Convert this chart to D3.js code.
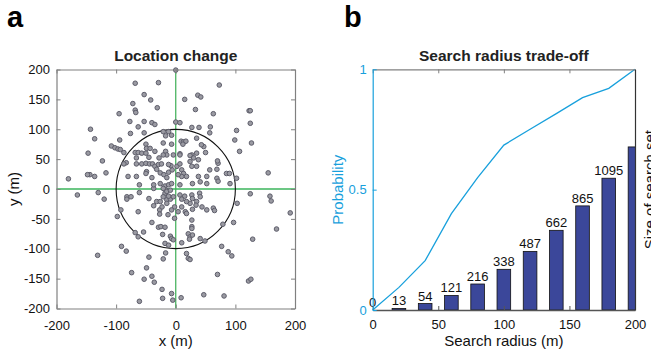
<!DOCTYPE html>
<html><head><meta charset="utf-8">
<script src="https://cdn.jsdelivr.net/npm/d3@7"></script>
<style>
body{margin:0;background:#fff;}
text{font-family:"Liberation Sans",Arial,Helvetica,sans-serif;}
</style></head><body>
<svg id="c" width="651" height="358"></svg>
<script>
// ---- Panel a data: location changes (m) ----
const locPoints = [
[0,199],[-68,177],[-29,178],[73,174],[-53,158],[-42,149],[15,150],[37,157],[42,154],[-72,143],[-68,132],[-67,128],[-31,136],[33,133],[63,126],[123,131],[125,131],[-95,126],[-143,100],[-136,84],[-147,60],[-123,47],[-77,113],[-53,113],[-63,104],[-40,111],[-35,108],[-76,93],[-53,94],[0,112],[7,111],[27,103],[39,103],[58,104],[57,94],[102,98],[125,110],[99,82],[127,77],[107,63],[-94,82],[-108,72],[-102,69],[-97,67],[-93,66],[-87,61],[-83,44],[-87,42],[-117,27],[-144,24],[-148,24],[-136,21],[-180,17],[155,27],[85,26],[90,26],[69,33],[71,43],[70,47],[50,61],[47,71],[43,74],[35,85],[27,57],[24,56],[30,52],[38,49],[35,38],[24,46],
[-21,96],[-17,89],[-12,96],[-7,90],[-7,75],[-21,77],[-17,63],[-15,57],[-21,57],[-4,57],[9,80],[13,79],[17,80],[12,75],[7,59],[7,57],[-28,52],[-35,63],[-50,75],[-49,68],[-68,61],[-63,61],[-57,60],[-50,60],[-45,53],[-43,68],[-66,52],[-66,42],[-57,42],[-50,43],[-44,42],[-39,42],[-35,38],[-29,41],[-24,42],[-49,29],[-50,26],[-32,33],[-26,27],[-20,24],[-12,28],[-6,32],[-8,39],[-12,41],[2,38],[7,42],[10,32],[13,26],[18,21],[10,21],[4,24],[-80,21],[-66,21],[-40,19],[-15,19],[27,38],[38,21],[52,21],[57,32],[35,60],
[-165,-10],[-130,-6],[-120,-17],[-82,-13],[-82,-17],[-75,-13],[-61,7],[-61,-6],[-45,-16],[-37,1],[-37,7],[-26,9],[-18,5],[-12,7],[-7,9],[-16,-2],[-18,-7],[-21,-13],[-32,-21],[-26,-21],[-15,-18],[-15,-24],[-9,-17],[-4,-13],[7,7],[7,-10],[15,-12],[-2,-30],[10,-30],[-7,-35],[4,-38],[16,-38],[24,-24],[27,-10],[28,-16],[35,-21],[34,-27],[40,-7],[41,12],[52,9],[28,9],[44,-30],[52,-35],[63,-32],[65,-36],[28,-34],[18,-41],[-27,-35],[-27,-42],[-13,-43],[-63,-38],[-92,-35],[-98,-46],[-40,-56],[-29,-64],[-25,-63],[-18,-64],[-22,-76],[-9,-79],[-7,-83],[-4,-85],[-2,-49],[27,-52],[27,-63],[27,-66],[21,-75],[24,-80],[28,-77],[23,-84],[41,-83],[49,-87],[10,-90],[-18,-91],[-12,-94],[-54,-72],[-68,-73],[-63,-80],[-91,-96],[-83,-104],[-131,-111],[-45,-114],[-21,-117],[-17,-107],[18,-108],[21,-116],[24,-118],[-49,-132],[-40,-146],[-53,-151],[-36,-156],[-74,-140],[-23,-168],[-22,-183],[-7,-175],[-5,-186],[9,-182],[-61,-188],[47,-177],[81,-179],[70,-143],[77,-96],[88,-105],[94,-112],[97,-56],[79,-59],[103,-24],[125,-8],[158,-12],[160,-20],[192,-40],[169,-67],[129,-84],[122,-154],[126,-151],[102,18],[91,9],[69,18],[71,13],[-15,-4],[-12,-12],[-9,-2],[-21,1],[-23,-30],[-37,-28],[10,-17],[18,-21],[41,-13]
];
const locXTicks = [-200,-100,0,100,200];
const locYTicks = [-200,-150,-100,-50,0,50,100,150,200];
const searchCircleRadius = 100;

// ---- Panel b data ----
const radii = [0,20,40,60,80,100,120,140,160,180,200];
const probability = [0,0.094,0.205,0.40,0.55,0.685,0.751,0.816,0.882,0.921,1.0];
const setSize = [0,13,54,121,216,338,487,662,865,1095,1355];
const setSizeLabels = ["0","13","54","121","216","338","487","662","865","1095"];
const radiusTicks = [0,50,100,150,200];
const probTicks = [0,0.5,1];

const svg = d3.select("#c");
const gray = "#808080";

// ================= Panel a =================
const ax = d3.scaleLinear().domain([-200,200]).range([56.5,295]);
const ay = d3.scaleLinear().domain([-200,200]).range([308.5,69.5]);
const ga = svg.append("g");

ga.append("text").attr("x",7).attr("y",27).attr("font-size",29).attr("font-weight","bold").text("a");
ga.append("text").attr("x",(ax(-200)+ax(200))/2).attr("y",61).attr("text-anchor","middle")
  .attr("font-size",15.5).attr("font-weight","bold").attr("fill","#222").text("Location change");

// green cross lines
ga.append("line").attr("x1",ax(-200)).attr("x2",ax(200)).attr("y1",ay(0)).attr("y2",ay(0))
  .attr("stroke","#6cc784").attr("stroke-width",1.8);
ga.append("line").attr("x1",ax(0)).attr("x2",ax(0)).attr("y1",ay(-200)).attr("y2",ay(200))
  .attr("stroke","#3cae55").attr("stroke-width",1.2);

// circle
ga.append("circle").attr("cx",ax(0)).attr("cy",ay(0))
  .attr("r",ax(searchCircleRadius)-ax(0)).attr("fill","none").attr("stroke","#111").attr("stroke-width",1.1);

// points
ga.append("g").selectAll("circle").data(locPoints).join("circle")
  .attr("cx",d=>ax(d[0])).attr("cy",d=>ay(d[1])).attr("r",2.3)
  .attr("fill","#9a9aa2").attr("stroke","#5d5d6a").attr("stroke-width",1);

function styleAxis(g, col){
  g.select(".domain").attr("stroke",col).attr("stroke-width",1.2);
  g.selectAll(".tick line").attr("stroke",col);
  g.selectAll("text").attr("font-size",13).attr("fill","#111")
    .attr("font-family","'Liberation Sans',Arial,sans-serif");
}
let g;
g = ga.append("g").attr("transform",`translate(0,${ay(-200)})`)
  .call(d3.axisBottom(ax).tickValues(locXTicks).tickSizeInner(-4).tickSizeOuter(0).tickPadding(12).tickFormat(d3.format("d")));
styleAxis(g,gray); g.selectAll("text").text(d=>d<0?"-"+Math.abs(d):d);
g = ga.append("g").attr("transform",`translate(0,${ay(200)})`)
  .call(d3.axisTop(ax).tickValues(locXTicks).tickSizeInner(-4).tickSizeOuter(0).tickFormat(""));
styleAxis(g,gray);
g = ga.append("g").attr("transform",`translate(${ax(-200)},0)`)
  .call(d3.axisLeft(ay).tickValues(locYTicks).tickSizeInner(-4).tickSizeOuter(0).tickPadding(6.5));
styleAxis(g,gray); g.selectAll("text").text(d=>d<0?"-"+Math.abs(d):d);
g = ga.append("g").attr("transform",`translate(${ax(200)},0)`)
  .call(d3.axisRight(ay).tickValues(locYTicks).tickSizeInner(-4).tickSizeOuter(0).tickFormat(""));
styleAxis(g,gray);

ga.append("text").attr("x",(ax(-200)+ax(200))/2).attr("y",346).attr("text-anchor","middle")
  .attr("font-size",15).attr("fill","#111").text("x (m)");
ga.append("text").attr("transform",`translate(19,${(ay(-200)+ay(200))/2}) rotate(-90)`)
  .attr("text-anchor","middle").attr("font-size",15).attr("fill","#111").text("y (m)");

// ================= Panel b =================
const bx = d3.scaleLinear().domain([0,200]).range([372.7,635]);
const byL = d3.scaleLinear().domain([0,1]).range([310,69.3]);
const byR = d3.scaleLinear().domain([0,2000]).range([310,69.3]);
const blue = "#18a0dc";
const gb = svg.append("g");

gb.append("text").attr("x",344).attr("y",27).attr("font-size",29).attr("font-weight","bold").text("b");
gb.append("text").attr("x",(bx(0)+bx(200))/2).attr("y",61).attr("text-anchor","middle")
  .attr("font-size",15.5).attr("font-weight","bold").attr("fill","#222").text("Search radius trade-off");

gb.append("clipPath").attr("id","clipb").append("rect")
  .attr("x",bx(0)).attr("y",byL(1)).attr("width",bx(200)-bx(0)).attr("height",byL(0)-byL(1));

const barW = bx(10.4)-bx(0);
gb.append("g").attr("clip-path","url(#clipb)").selectAll("rect").data(radii).join("rect")
  .attr("x",(d)=>bx(d)-barW/2).attr("width",barW)
  .attr("y",(d,i)=>byR(setSize[i])).attr("height",(d,i)=>byR(0)-byR(setSize[i]))
  .attr("fill","#3b479a").attr("stroke","#111").attr("stroke-width",0.8);

gb.append("g").selectAll("text").data(setSizeLabels).join("text")
  .attr("x",(d,i)=>bx(radii[i])).attr("y",(d,i)=>byR(setSize[i])-3)
  .attr("text-anchor","middle").attr("font-size",13).attr("fill","#111").text(d=>d);

// probability line
gb.append("path").datum(radii)
  .attr("d",d3.line().x(d=>bx(d)).y((d,i)=>byL(probability[i])))
  .attr("fill","none").attr("stroke",blue).attr("stroke-width",1.3);

g = gb.append("g").attr("transform",`translate(0,${byL(0)})`)
  .call(d3.axisBottom(bx).tickValues(radiusTicks).tickSizeInner(-4).tickSizeOuter(0).tickPadding(10));
styleAxis(g,"#555"); g.select(".domain").attr("stroke-width",1.6);
g = gb.append("g").attr("transform",`translate(0,${byL(1)})`)
  .call(d3.axisTop(bx).tickValues(radiusTicks).tickSizeInner(-4).tickSizeOuter(0).tickFormat(""));
styleAxis(g,gray);
g = gb.append("g").attr("transform",`translate(${bx(0)},0)`)
  .call(d3.axisLeft(byL).tickValues(probTicks).tickSizeInner(-4).tickSizeOuter(0).tickPadding(6).tickFormat(d=>String(d)));
styleAxis(g,blue); g.selectAll("text").attr("fill",blue);
g = gb.append("g").attr("transform",`translate(${bx(200)},0)`)
  .call(d3.axisRight(byR).tickValues([]).tickSizeOuter(0));
styleAxis(g,"#333");

gb.append("text").attr("x",(bx(0)+bx(200))/2).attr("y",346).attr("text-anchor","middle")
  .attr("font-size",15).attr("fill","#111").text("Search radius (m)");
gb.append("text").attr("transform",`translate(343,${(byL(0)+byL(1))/2}) rotate(-90)`)
  .attr("text-anchor","middle").attr("font-size",15).attr("fill",blue).text("Probability");
gb.append("text").attr("transform",`translate(655,${(byL(0)+byL(1))/2}) rotate(-90)`)
  .attr("text-anchor","middle").attr("font-size",15).attr("fill","#111").text("Size of search set");
</script>
</body></html>
